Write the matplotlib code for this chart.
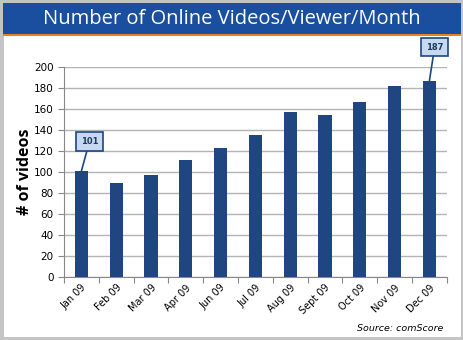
import numpy as np
import matplotlib.pyplot as plt
from matplotlib.patches import Rectangle

months = ['Jan 09', 'Feb 09', 'Mar 09', 'Apr 09', 'Jun 09', 'Jul 09',
          'Aug 09', 'Sept 09', 'Oct 09', 'Nov 09', 'Dec 09']
videos = [101, 90, 97, 111, 123, 135, 157, 154, 167, 182, 187]
yticks = list(range(0, 201, 20))

fig = plt.figure(figsize=(4.64, 3.4), dpi=100)

# ramka i pasek tytulu
fig.patches.append(Rectangle((0, 0), 1, 1, transform=fig.transFigure,
                             fill=False, ec='#c4c4c4', lw=5))
fig.patches.append(Rectangle((0.007, 0.9), 0.986, 0.09, transform=fig.transFigure,
                             fc='#1a4e9f', ec='none'))
fig.patches.append(Rectangle((0.007, 0.893), 0.986, 0.008, transform=fig.transFigure,
                             fc='#e8821e', ec='none'))
fig.text(0.5, 0.943, 'Number of Online Videos/Viewer/Month', color='white',
         fontsize=14.5, ha='center', va='center', family='Open Sans')

ax = fig.add_axes([0.138, 0.185, 0.825, 0.618])
x = np.arange(len(months))
ax.bar(x, videos, width=0.38, color='#1f4680', zorder=3)
ax.set_xlim(-0.5, len(months) - 0.5)
ax.set_ylim(0, 200)
ax.set_yticks(yticks)
ax.yaxis.grid(True, color='#b4b4b4', lw=1, zorder=0)
ax.set_xticks(np.arange(-0.5, len(months), 1), minor=False)
ax.set_xticklabels([])
ax.set_xticks(x, minor=True)
ax.set_xticklabels(months, minor=True, rotation=45, ha='right',
                   rotation_mode='anchor', fontsize=7)
ax.tick_params(axis='x', which='minor', length=0, pad=4)
ax.tick_params(axis='x', which='major', length=4, color='#888888')
ax.tick_params(axis='y', labelsize=7.5, length=4, color='#888888')
for s in ['top', 'right']:
    ax.spines[s].set_visible(False)
ax.spines['left'].set_color('#888888')
ax.spines['bottom'].set_color('#888888')
ax.set_ylabel('# of videos', fontsize=11.5, fontweight='bold', family='Open Sans')
ax.yaxis.set_label_coords(-0.08, 0.5)

box = dict(boxstyle='square,pad=0.55', fc='#c6d9f1', ec='#1f4680', lw=1.2)
ax.annotate(str(videos[0]), xy=(0, videos[0]), xytext=(0.23, 129),
            ha='center', va='center', fontsize=6, fontweight='bold', color='#1f3a60',
            bbox=box, arrowprops=dict(arrowstyle='-', color='#1f4680', lw=1.2,
                                      shrinkA=0, shrinkB=0), annotation_clip=False)
ax.annotate(str(videos[-1]), xy=(10, videos[-1]), xytext=(10.15, 219),
            ha='center', va='center', fontsize=6, fontweight='bold', color='#1f3a60',
            bbox=box, arrowprops=dict(arrowstyle='-', color='#1f4680', lw=1.2,
                                      shrinkA=0, shrinkB=0), annotation_clip=False)

fig.text(0.955, 0.035, 'Source: comScore', style='italic', fontsize=6.8,
         ha='right', va='center')

plt.savefig('out.png')
